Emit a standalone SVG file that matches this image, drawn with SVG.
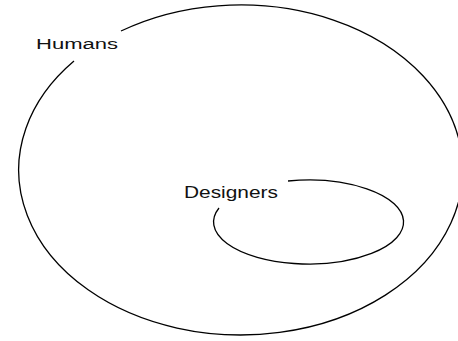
<svg xmlns="http://www.w3.org/2000/svg" width="458" height="341" viewBox="0 0 458 341">
  <style>
    .set { fill: none; stroke: #000; stroke-width: 1.3; }
    .label { font-family: "Liberation Sans", Arial, sans-serif; fill: #111; }
  </style>
  <rect width="458" height="341" fill="#fff"/>
  <g id="humans">
    <path class="set" d="M 121 31 A 222 165 0 1 1 74 61"/>
    <text class="label" x="36" y="48.5" font-size="15.5" textLength="82" lengthAdjust="spacingAndGlyphs">Humans</text>
  </g>
  <g id="designers">
    <path class="set" d="M 288 181 A 95 42 0 1 1 219 208"/>
    <text class="label" x="184" y="197.5" font-size="16.5" textLength="94" lengthAdjust="spacingAndGlyphs">Designers</text>
  </g>
  <g id="connectors"/>
</svg>
